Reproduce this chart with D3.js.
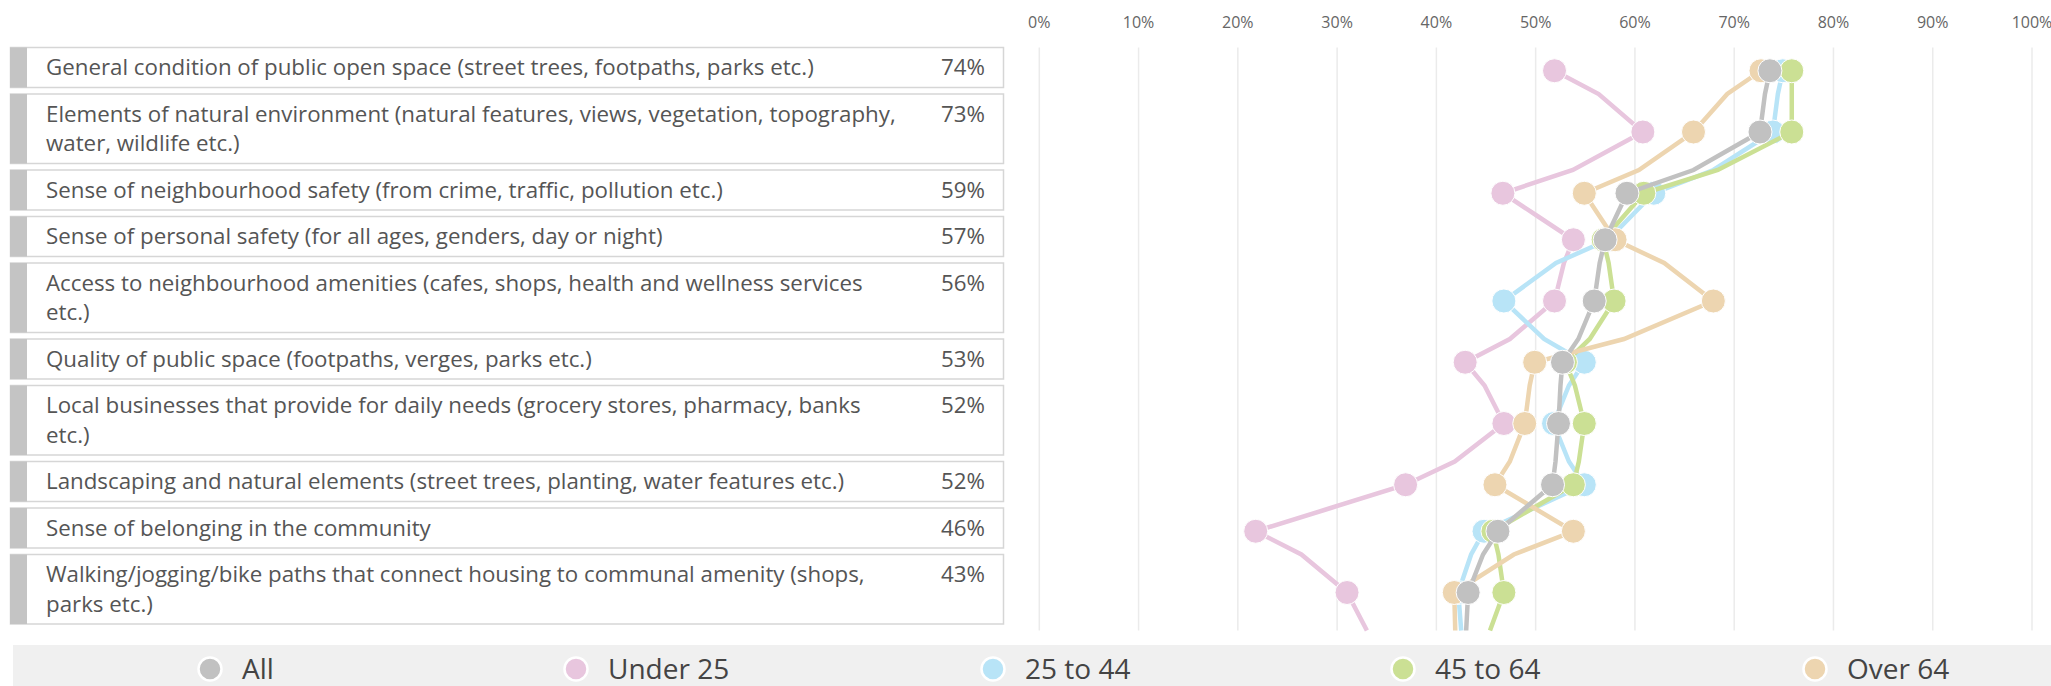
<!DOCTYPE html>
<html>
<head>
<meta charset="utf-8">
<script src="https://cdn.jsdelivr.net/npm/d3@7/dist/d3.min.js"></script>
<style>
  body { margin: 0; background: #fff; }
  svg { display: block; font-family: "Open Sans", sans-serif; }
</style>
</head>
<body>
<svg id="chart"></svg>
<script>
// rows of the list, each with its wrapped lines
const categories = [
    ["General condition of public open space (street trees, footpaths, parks etc.)"],
    ["Elements of natural environment (natural features, views, vegetation, topography,", "water, wildlife etc.)"],
    ["Sense of neighbourhood safety (from crime, traffic, pollution etc.)"],
    ["Sense of personal safety (for all ages, genders, day or night)"],
    ["Access to neighbourhood amenities (cafes, shops, health and wellness services", "etc.)"],
    ["Quality of public space (footpaths, verges, parks etc.)"],
    ["Local businesses that provide for daily needs (grocery stores, pharmacy, banks", "etc.)"],
    ["Landscaping and natural elements (street trees, planting, water features etc.)"],
    ["Sense of belonging in the community"],
    ["Walking/jogging/bike paths that connect housing to communal amenity (shops,", "parks etc.)"]
];

const seriesNames = ["All", "Under 25", "25 to 44", "45 to 64", "Over 64"];

const allValues     = [73.6, 72.6, 59.2, 57.0, 55.9, 52.7, 52.3, 51.7, 46.2, 43.2];
const under25Values = [51.9, 60.8, 46.7, 53.8, 51.9, 42.9, 46.8, 36.9, 21.8, 31.0];
const age25to44     = [74.9, 73.9, 61.9, 57.3, 46.8, 54.9, 51.8, 54.9, 44.8, 42.2];
const age45to64     = [75.8, 75.8, 60.9, 56.8, 57.9, 53.0, 54.9, 53.8, 45.7, 46.8];
const over64Values  = [72.7, 65.9, 54.9, 58.0, 67.9, 49.9, 48.9, 45.9, 53.8, 41.8];

// values of the next row of the list, which is cut off below the visible area
const belowFold = [42.8, 35.0, 42.8, 44.0, 42.0];

const tickValues = [0, 10, 20, 30, 40, 50, 60, 70, 80, 90, 100];

(() => {
    const width = 2051, height = 686;
    const colors = ["#c1c1c1", "#e8c6de", "#b8e4f7", "#cbe094", "#edd5b0"];
    const drawOrder = [1, 2, 3, 4, 0];

    const seriesValues = [allValues, under25Values, age25to44, age45to64, over64Values];

    const svg = d3.select("#chart")
        .attr("width", width)
        .attr("height", height);

    // row layout (boxes of variable height)
    const top0 = 47.5, lineH = 29.5, boxBase = 40, gap = 6.5;
    const rows = [];
    let yy = top0;
    categories.forEach((lines, i) => {
        const h = boxBase + lineH * (lines.length - 1);
        rows.push({ lines, i, top: yy, boxH: h, bottom: yy + h + gap, mid: yy + (h + gap) / 2 });
        yy += h + gap;
    });
    const plotBottom = yy;

    const x = d3.scaleLinear().domain([0, 100]).range([1039.3, 2032]);

    // gridlines + tick labels
    svg.append("g")
        .selectAll("line")
        .data(tickValues)
        .enter()
        .append("line")
        .attr("x1", d => x(d)).attr("x2", d => x(d))
        .attr("y1", top0).attr("y2", plotBottom)
        .attr("stroke", "#ebebeb")
        .attr("stroke-width", 1.5);

    svg.append("g")
        .selectAll("text")
        .data(tickValues)
        .enter()
        .append("text")
        .attr("x", d => x(d))
        .attr("y", 22)
        .attr("dy", "0.35em")
        .attr("text-anchor", "middle")
        .style("font-size", "16px")
        .style("fill", "#666")
        .text(d => d + "%");

    // list boxes on the left
    const boxes = svg.append("g")
        .selectAll("g")
        .data(rows)
        .enter()
        .append("g");

    boxes.append("rect")
        .attr("x", 10.5)
        .attr("y", d => d.top)
        .attr("width", 993)
        .attr("height", d => d.boxH)
        .attr("fill", "#fff")
        .attr("stroke", "#d6d6d6")
        .attr("stroke-width", 1.5);

    boxes.append("rect")
        .attr("x", 10)
        .attr("y", d => d.top)
        .attr("width", 17)
        .attr("height", d => d.boxH)
        .attr("fill", "#c4c4c4");

    boxes.each(function(d) {
        const g = d3.select(this);
        d.lines.forEach((ln, k) => {
            g.append("text")
                .attr("x", 46)
                .attr("y", d.top + 20 + k * lineH)
                .attr("dy", "0.35em")
                .style("font-size", "22.3px")
                .style("fill", "#555")
                .text(ln);
        });
    });

    boxes.append("text")
        .attr("x", 985)
        .attr("y", d => d.top + 20)
        .attr("dy", "0.35em")
        .attr("text-anchor", "end")
        .style("font-size", "22.3px")
        .style("fill", "#555")
        .text(d => d3.format(".0%")(allValues[d.i] / 100));

    // series: each row joins its neighbours at the row edge, at the mean value
    const line = d3.line().x(d => x(d[0])).y(d => d[1]);

    drawOrder.forEach(s => {
        const vals = seriesValues[s];
        const pts = [];
        rows.forEach((r, i) => {
            if (i > 0) pts.push([(vals[i - 1] + vals[i]) / 2, r.top]);
            pts.push([vals[i], r.mid]);
        });
        pts.push([(vals[vals.length - 1] + belowFold[s]) / 2, plotBottom]);

        const g = svg.append("g");
        g.append("path")
            .datum(pts)
            .attr("d", line)
            .attr("fill", "none")
            .attr("stroke", colors[s])
            .attr("stroke-width", 4.5);

        g.selectAll("circle")
            .data(rows)
            .enter()
            .append("circle")
            .attr("cx", r => x(vals[r.i]))
            .attr("cy", r => r.mid)
            .attr("r", 12)
            .attr("fill", colors[s])
            .attr("stroke", "#fff")
            .attr("stroke-width", 1);
    });

    // legend
    svg.append("rect")
        .attr("x", 13)
        .attr("y", 645)
        .attr("width", width - 13)
        .attr("height", height - 645)
        .attr("fill", "#f0f0f0");

    const legendX = [210, 576, 993, 1403, 1815];
    const legend = svg.append("g")
        .selectAll("g")
        .data(seriesNames)
        .enter()
        .append("g")
        .attr("transform", (d, i) => `translate(${legendX[i]},669)`);

    legend.append("circle")
        .attr("r", 11.5)
        .attr("fill", (d, i) => colors[i])
        .attr("stroke", "#fff")
        .attr("stroke-width", 2.5);

    legend.append("text")
        .attr("x", 32)
        .attr("dy", "0.35em")
        .style("font-size", "28px")
        .style("fill", "#444")
        .text(d => d);
})();
</script>
</body>
</html>
